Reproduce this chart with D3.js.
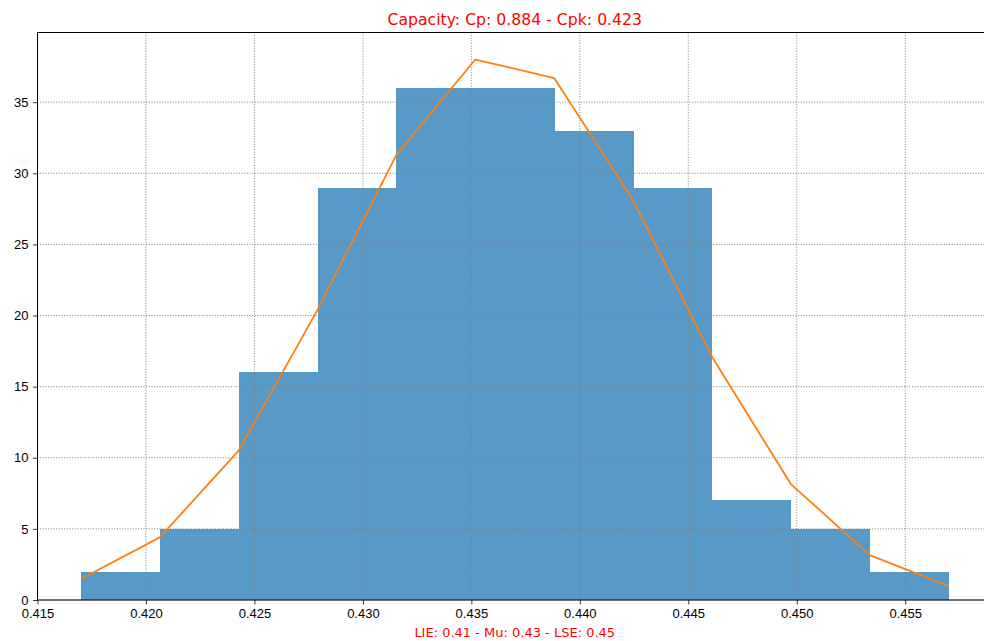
<!DOCTYPE html>
<html>
<head>
<meta charset="utf-8">
<script src="https://cdn.jsdelivr.net/npm/d3@7"></script>
<style>
  body { margin: 0; background: #fff; }
  svg { font-family: "DejaVu Sans", sans-serif; }
  .axis path { display: none; }
  .axis line { stroke: #000; stroke-width: 0.8; }
  .axis text { font-size: 13px; fill: #000; }
  .grid line { stroke: #808080; stroke-width: 1; stroke-dasharray: 1, 1.65; }
</style>
</head>
<body>
<div id="chart"></div>
<script>
// histogram data
var binStart = 0.417,
    binEnd = 0.457;
var counts = [2, 5, 16, 29, 36, 36, 33, 29, 7, 5, 2];
// fitted curve, evaluated at the bin edges
var curveVals = [1.48, 4.4, 10.5, 20.4, 31.3, 38.0, 36.7, 28.1, 17.1, 8.15, 3.16, 0.98];
var xTicks = [0.415, 0.420, 0.425, 0.430, 0.435, 0.440, 0.445, 0.450, 0.455];
var yTicks = [0, 5, 10, 15, 20, 25, 30, 35];
var titleText = "Capacity: Cp: 0.884 - Cpk: 0.423";
var xLabelText = "LIE: 0.41 - Mu: 0.43 - LSE: 0.45";

var width = 984, height = 641;
var plotL = 37.5, plotR = 992, plotT = 32.5, plotB = 600;

var svg = d3.select("#chart").append("svg")
    .attr("width", width)
    .attr("height", height);

var x = d3.scaleLinear().domain([0.415, 0.459]).range([plotL, plotR]);
var y = d3.scaleLinear().domain([0, 39.9]).range([plotB, plotT]);

var binW = (binEnd - binStart) / counts.length;
var bins = counts.map(function(c, i) {
    return {x0: binStart + i * binW, x1: binStart + (i + 1) * binW, n: c};
});

// bars (C0 at alpha .75 over white, drawn opaque so no seams show)
svg.append("g")
    .attr("shape-rendering", "crispEdges")
    .selectAll("rect")
    .data(bins)
    .enter().append("rect")
    .attr("x", function(d) { return x(d.x0); })
    .attr("width", function(d) { return x(d.x1) - x(d.x0) + 0.5; })
    .attr("y", function(d) { return y(d.n); })
    .attr("height", function(d) { return y(0) - y(d.n); })
    .attr("fill", "#5799c7");

// grid on top of the bars
var grid = svg.append("g").attr("class", "grid");
grid.selectAll(".gx")
    .data(xTicks)
    .enter().append("line")
    .attr("x1", function(d) { return x(d); })
    .attr("x2", function(d) { return x(d); })
    .attr("y1", plotT)
    .attr("y2", plotB);
grid.selectAll(".gy")
    .data(yTicks)
    .enter().append("line")
    .attr("x1", plotL)
    .attr("x2", plotR)
    .attr("y1", function(d) { return y(d); })
    .attr("y2", function(d) { return y(d); });

// fitted curve
var line = d3.line()
    .x(function(d, i) { return x(binStart + i * binW); })
    .y(function(d) { return y(d); });

svg.append("path")
    .datum(curveVals)
    .attr("d", line)
    .attr("fill", "none")
    .attr("stroke", "#ff7f0e")
    .attr("stroke-width", 1.8)
    .attr("stroke-linejoin", "round");

// axes
svg.append("g")
    .attr("class", "axis")
    .attr("transform", "translate(0," + plotB + ")")
    .call(d3.axisBottom(x)
        .tickValues(xTicks)
        .tickFormat(d3.format(".3f"))
        .tickSize(4.5)
        .tickPadding(4.5));

svg.append("g")
    .attr("class", "axis")
    .attr("transform", "translate(" + plotL + ",0)")
    .call(d3.axisLeft(y)
        .tickValues(yTicks)
        .tickFormat(d3.format("d"))
        .tickSize(4.5)
        .tickPadding(4.5));

// spines
svg.append("rect")
    .attr("x", plotL)
    .attr("y", plotT)
    .attr("width", plotR - plotL)
    .attr("height", plotB - plotT)
    .attr("fill", "none")
    .attr("stroke", "#000")
    .attr("stroke-width", 1);

svg.append("text")
    .attr("x", (plotL + plotR) / 2)
    .attr("y", 25)
    .attr("text-anchor", "middle")
    .attr("fill", "#ff0000")
    .style("font-size", "15.7px")
    .text(titleText);

svg.append("text")
    .attr("x", (plotL + plotR) / 2)
    .attr("y", 637)
    .attr("text-anchor", "middle")
    .attr("fill", "#ff0000")
    .style("font-size", "13px")
    .text(xLabelText);
</script>
</body>
</html>
